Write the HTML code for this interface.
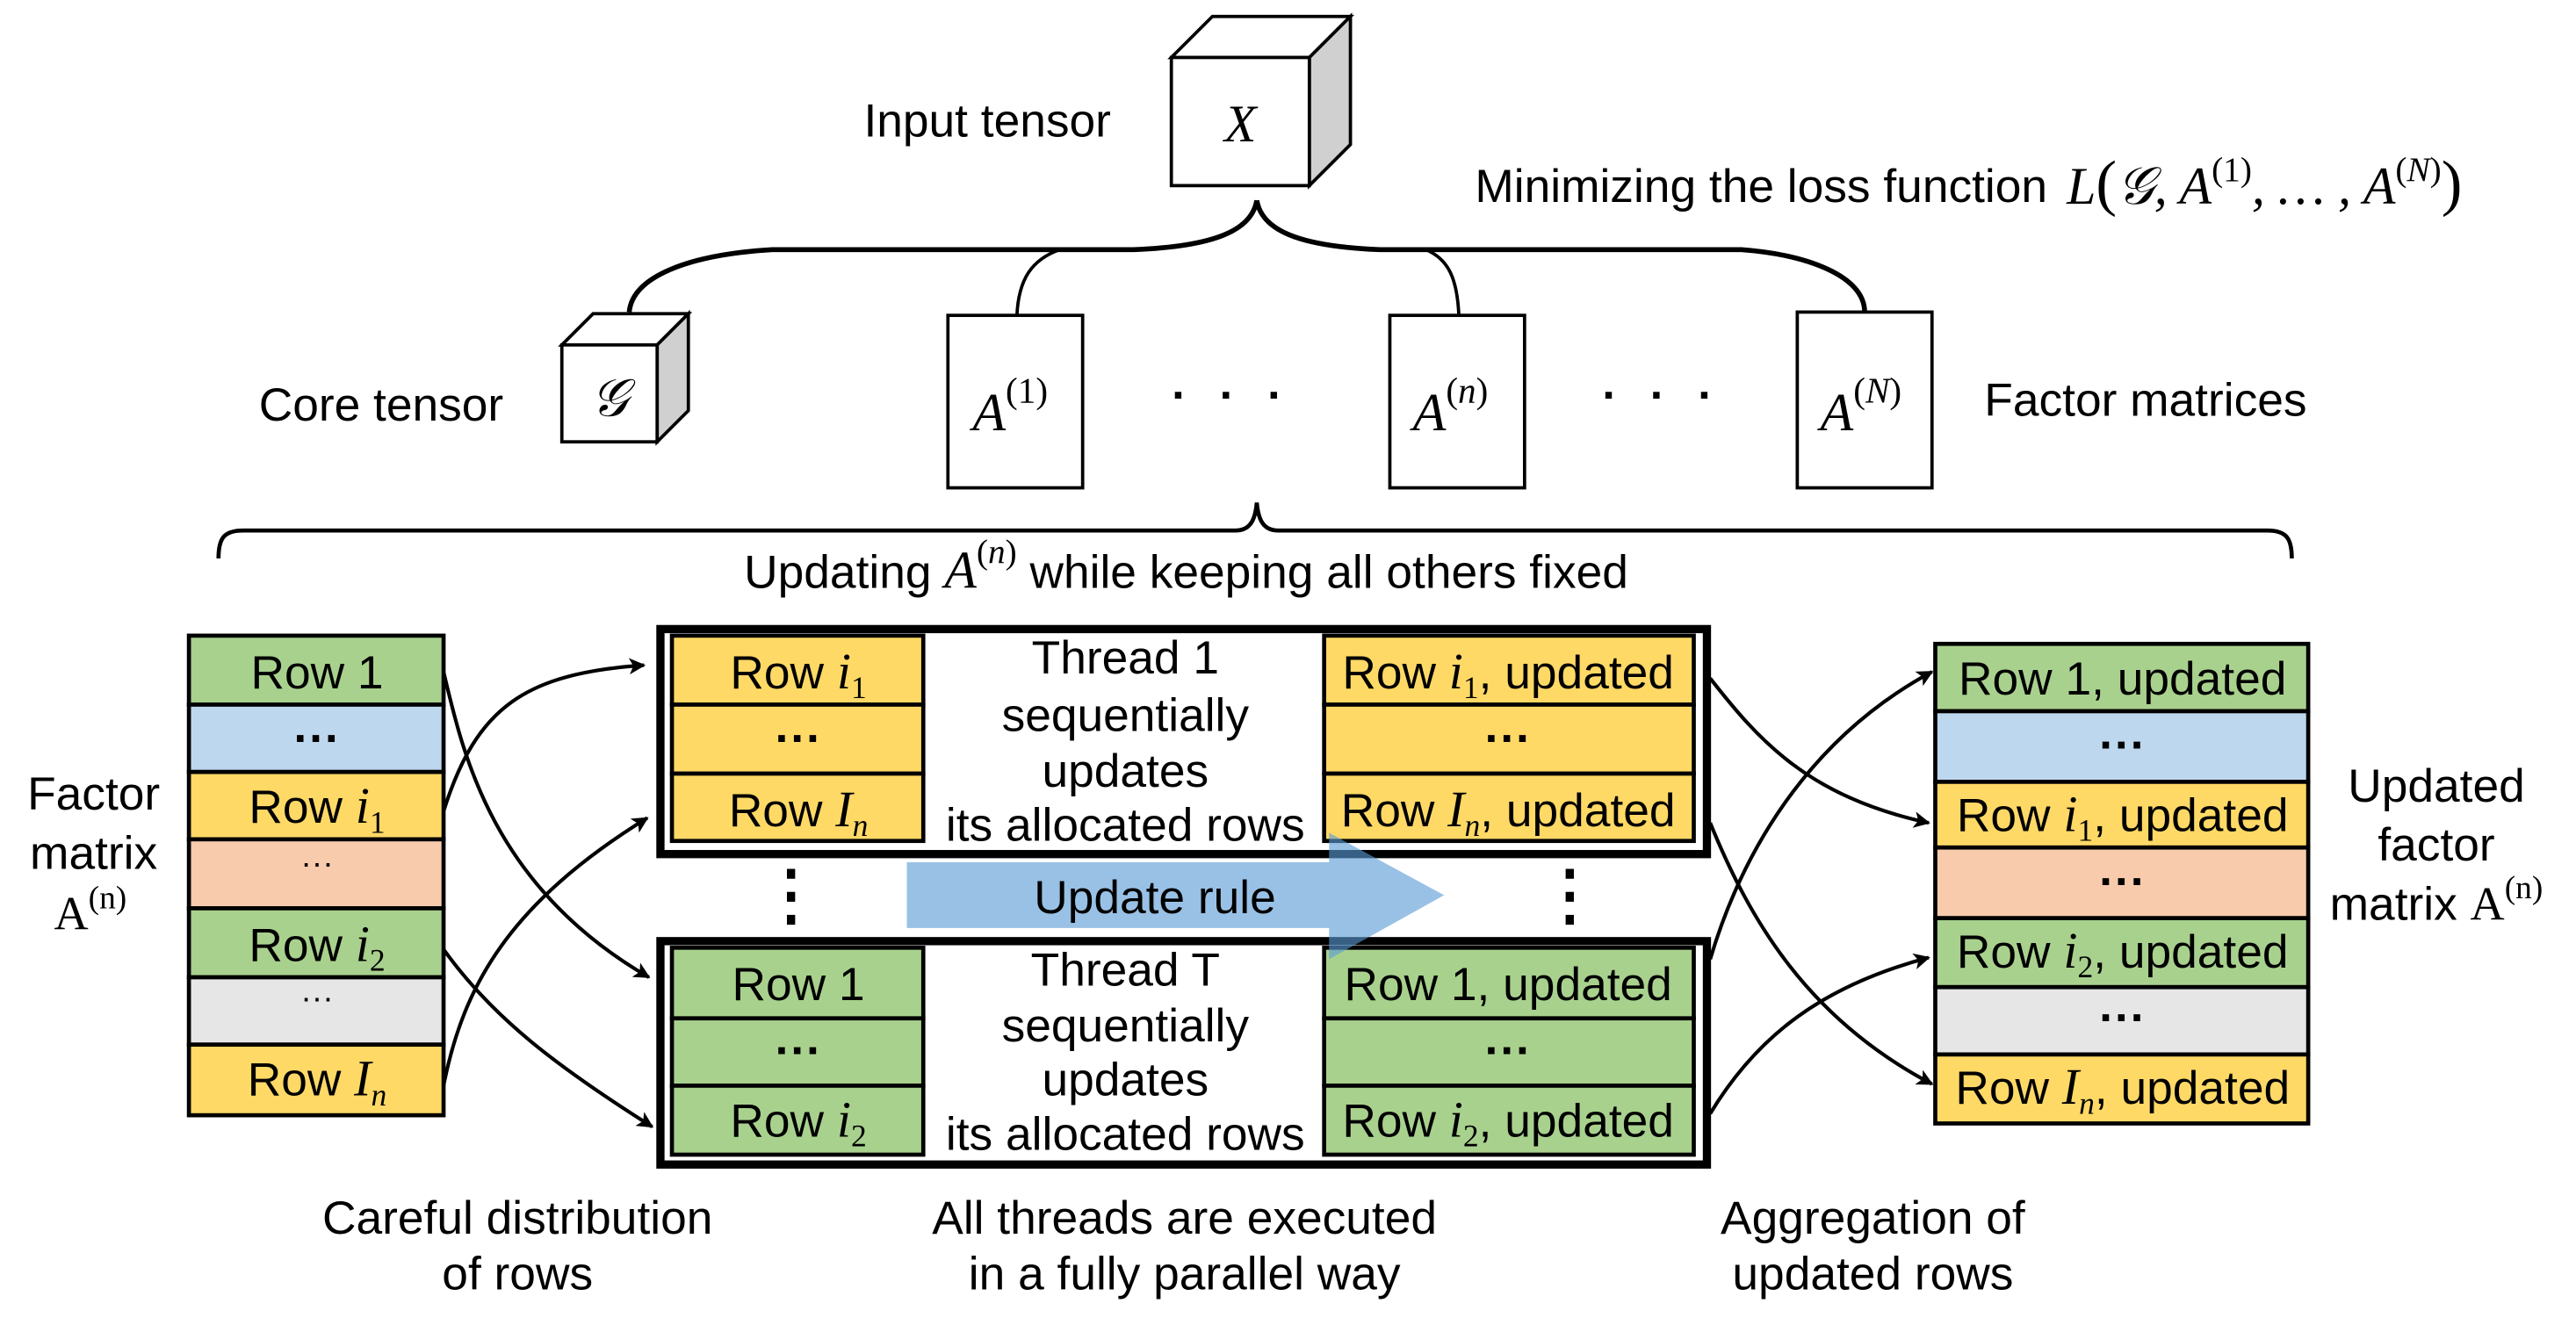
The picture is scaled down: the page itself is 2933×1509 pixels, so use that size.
<!DOCTYPE html>
<html><head><meta charset="utf-8"><style>
html,body{margin:0;padding:0;background:#fff;}
svg{display:block;}
text{font-family:"Liberation Sans",sans-serif;fill:#000;}
.m{font-family:"Liberation Serif",serif;font-style:italic;}
.r{font-family:"Liberation Serif",serif;}
</style></head><body>
<svg width="2933" height="1509" viewBox="0 0 1568 806.7" preserveAspectRatio="none" xmlns="http://www.w3.org/2000/svg">
<defs>
<marker id="ah" markerWidth="10" markerHeight="10" refX="9" refY="5" orient="auto" markerUnits="userSpaceOnUse">
<path d="M0,0 L10,5 L0,10 L2.5,5 Z" fill="#000"/>
</marker>
</defs>

<!-- Input tensor cube -->
<text x="601" y="83" font-size="28.5" text-anchor="middle">Input tensor</text>
<polygon points="713,35 738,10 822,10 797,35" fill="#fff" stroke="#000" stroke-width="2"/>
<polygon points="797,35 822,10 822,88 797,113" fill="#d0d0d0" stroke="#000" stroke-width="2"/>
<rect x="713" y="35" width="84" height="78" fill="#fff" stroke="#000" stroke-width="2"/>
<text x="755" y="86" font-size="32" class="m" text-anchor="middle">X</text>

<!-- top brace -->
<path d="M765,122 C762,140 740,150 690,152 L470,152 C420,155 385,168 383,190" fill="none" stroke="#000" stroke-width="3"/>
<path d="M765,122 C768,140 790,150 840,152 L1060,152 C1100,155 1135,168 1135,190" fill="none" stroke="#000" stroke-width="3"/>
<path d="M645,152 C628,158 620,170 619,192" fill="none" stroke="#000" stroke-width="2"/>
<path d="M868,152 C882,158 887,170 888,192" fill="none" stroke="#000" stroke-width="2"/>

<text x="1072" y="123" font-size="28.5" text-anchor="middle">Minimizing the loss function</text>
<text x="1258" y="124" font-size="32" class="m">L<tspan class="r" font-style="normal" font-size="38">(</tspan>𝒢, A<tspan font-size="21" dy="-14" class="r" font-style="normal">(1)</tspan><tspan dy="14">, … , A</tspan><tspan font-size="21" dy="-14" class="r" font-style="normal">(</tspan><tspan font-size="21">N</tspan><tspan font-size="21" class="r" font-style="normal">)</tspan><tspan dy="14" class="r" font-style="normal" font-size="38">)</tspan></text>

<!-- core tensor -->
<text x="232" y="256" font-size="28.5" text-anchor="middle">Core tensor</text>
<polygon points="342,210 361,191 419,191 400,210" fill="#fff" stroke="#000" stroke-width="2"/>
<polygon points="400,210 419,191 419,250 400,269" fill="#d0d0d0" stroke="#000" stroke-width="2"/>
<rect x="342" y="210" width="58" height="59" fill="#fff" stroke="#000" stroke-width="2"/>
<text x="371" y="253" font-size="32" class="m" text-anchor="middle">𝒢</text>

<!-- factor matrices -->
<rect x="577" y="192" width="82" height="105" fill="#fff" stroke="#000" stroke-width="2"/>
<text x="592" y="262" font-size="33" class="m">A<tspan font-size="22" dy="-17" class="r" font-style="normal">(1)</tspan></text>
<text x="750" y="250" font-size="28" text-anchor="middle" letter-spacing="6" font-weight="bold">· · ·</text>
<rect x="846" y="192" width="82" height="105" fill="#fff" stroke="#000" stroke-width="2"/>
<text x="860" y="262" font-size="33" class="m">A<tspan font-size="22" dy="-17" class="r" font-style="normal">(</tspan><tspan font-size="22">n</tspan><tspan font-size="22" class="r" font-style="normal">)</tspan></text>
<text x="1012" y="250" font-size="28" text-anchor="middle" letter-spacing="6" font-weight="bold">· · ·</text>
<rect x="1094" y="190" width="82" height="107" fill="#fff" stroke="#000" stroke-width="2"/>
<text x="1108" y="262" font-size="33" class="m">A<tspan font-size="22" dy="-17" class="r" font-style="normal">(</tspan><tspan font-size="22">N</tspan><tspan font-size="22" class="r" font-style="normal">)</tspan></text>
<text x="1306" y="253" font-size="28.5" text-anchor="middle">Factor matrices</text>

<!-- big brace -->
<path d="M133,340 C133,328 136,323 148,323 L752,323 C760,323 764,318 765,306 C766,318 770,323 778,323 L1380,323 C1392,323 1395,328 1395,340" fill="none" stroke="#000" stroke-width="2.5"/>
<text x="722" y="358" font-size="28.5" text-anchor="middle">Updating  <tspan class="m" font-size="32">A</tspan><tspan font-size="21" dy="-15" class="r">(</tspan><tspan font-size="21" class="m">n</tspan><tspan font-size="21" class="r">)</tspan><tspan dy="15"> while keeping all others fixed</tspan></text>

<!-- left matrix -->
<g stroke="#000" stroke-width="2.5">
<rect x="115" y="387" width="155" height="42" fill="#a9d18e"/>
<rect x="115" y="429" width="155" height="41" fill="#bdd7ee"/>
<rect x="115" y="470" width="155" height="41" fill="#ffd966"/>
<rect x="115" y="511" width="155" height="42" fill="#f8cbad"/>
<rect x="115" y="553" width="155" height="42" fill="#a9d18e"/>
<rect x="115" y="595" width="155" height="41" fill="#e7e6e6"/>
<rect x="115" y="636" width="155" height="43" fill="#ffd966"/>
</g>
<g font-size="28.5" text-anchor="middle">
<text x="193" y="419">Row 1</text>
<text x="193" y="459" font-weight="bold">···</text>
<text x="193" y="501">Row <tspan class="m" font-size="31">i</tspan><tspan font-size="19" dy="6" class="r">1</tspan></text>
<text x="193" y="532" font-size="20">···</text>
<text x="193" y="585">Row <tspan class="m" font-size="31">i</tspan><tspan font-size="19" dy="6" class="r">2</tspan></text>
<text x="193" y="614" font-size="20">···</text>
<text x="193" y="667">Row <tspan class="m" font-size="31">I</tspan><tspan font-size="19" dy="6" class="m">n</tspan></text>
</g>
<text x="57" y="493" font-size="28.5" text-anchor="middle">Factor</text>
<text x="57" y="529" font-size="28.5" text-anchor="middle">matrix</text>
<text x="55" y="566" font-size="29" text-anchor="middle" class="r">A<tspan font-size="20" dy="-13">(n)</tspan></text>

<!-- thread 1 -->
<rect x="402" y="383" width="637" height="137" fill="#fff" stroke="#000" stroke-width="5"/>
<g stroke="#000" stroke-width="2.5">
<rect x="409" y="387" width="153" height="42" fill="#ffd966"/>
<rect x="409" y="429" width="153" height="42" fill="#ffd966"/>
<rect x="409" y="471" width="153" height="41" fill="#ffd966"/>
<rect x="806" y="387" width="225" height="42" fill="#ffd966"/>
<rect x="806" y="429" width="225" height="42" fill="#ffd966"/>
<rect x="806" y="471" width="225" height="41" fill="#ffd966"/>
</g>
<!-- thread T -->
<rect x="402" y="573" width="637" height="136" fill="#fff" stroke="#000" stroke-width="5"/>
<g stroke="#000" stroke-width="2.5">
<rect x="409" y="577" width="153" height="43" fill="#a9d18e"/>
<rect x="409" y="620" width="153" height="41" fill="#a9d18e"/>
<rect x="409" y="661" width="153" height="42" fill="#a9d18e"/>
<rect x="806" y="577" width="225" height="43" fill="#a9d18e"/>
<rect x="806" y="620" width="225" height="41" fill="#a9d18e"/>
<rect x="806" y="661" width="225" height="42" fill="#a9d18e"/>
</g>
<g font-size="28.5" text-anchor="middle">
<text x="486" y="419">Row <tspan class="m" font-size="31">i</tspan><tspan font-size="19" dy="6" class="r">1</tspan></text>
<text x="486" y="459" font-weight="bold">···</text>
<text x="486" y="503">Row <tspan class="m" font-size="31">I</tspan><tspan font-size="19" dy="6" class="m">n</tspan></text>
<text x="918" y="419">Row <tspan class="m" font-size="31">i</tspan><tspan font-size="19" dy="6" class="r">1</tspan><tspan dy="-6">, updated</tspan></text>
<text x="918" y="459" font-weight="bold">···</text>
<text x="918" y="503">Row <tspan class="m" font-size="31">I</tspan><tspan font-size="19" dy="6" class="m">n</tspan><tspan dy="-6">, updated</tspan></text>
<text x="486" y="609">Row 1</text>
<text x="486" y="649" font-weight="bold">···</text>
<text x="486" y="692">Row <tspan class="m" font-size="31">i</tspan><tspan font-size="19" dy="6" class="r">2</tspan></text>
<text x="918" y="609">Row 1, updated</text>
<text x="918" y="649" font-weight="bold">···</text>
<text x="918" y="692">Row <tspan class="m" font-size="31">i</tspan><tspan font-size="19" dy="6" class="r">2</tspan><tspan dy="-6">, updated</tspan></text>
<text x="685" y="410">Thread 1</text>
<text x="685" y="445">sequentially</text>
<text x="685" y="479">updates</text>
<text x="685" y="512">its allocated rows</text>
<text x="685" y="600">Thread T</text>
<text x="685" y="634">sequentially</text>
<text x="685" y="667">updates</text>
<text x="685" y="700">its allocated rows</text>
</g>
<!-- vertical dots -->
<g fill="#000">
<rect x="479" y="529" width="5" height="6"/><rect x="479" y="543" width="5" height="6"/><rect x="479" y="557" width="5" height="6"/>
<rect x="953" y="529" width="5" height="6"/><rect x="953" y="543" width="5" height="6"/><rect x="953" y="557" width="5" height="6"/>
</g>
<!-- update rule arrow -->
<polygon points="552,525 809,525 809,507 879,545 809,584 809,565 552,565" fill="#5b9bd5" fill-opacity="0.62"/>
<text x="703" y="556" font-size="28.5" text-anchor="middle">Update rule</text>

<!-- right matrix -->
<g stroke="#000" stroke-width="2.5">
<rect x="1178" y="392" width="227" height="41" fill="#a9d18e"/>
<rect x="1178" y="433" width="227" height="43" fill="#bdd7ee"/>
<rect x="1178" y="476" width="227" height="40" fill="#ffd966"/>
<rect x="1178" y="516" width="227" height="43" fill="#f8cbad"/>
<rect x="1178" y="559" width="227" height="42" fill="#a9d18e"/>
<rect x="1178" y="601" width="227" height="41" fill="#e7e6e6"/>
<rect x="1178" y="642" width="227" height="42" fill="#ffd966"/>
</g>
<g font-size="28.5" text-anchor="middle">
<text x="1292" y="423">Row 1, updated</text>
<text x="1292" y="463" font-weight="bold">···</text>
<text x="1292" y="506">Row <tspan class="m" font-size="31">i</tspan><tspan font-size="19" dy="6" class="r">1</tspan><tspan dy="-6">, updated</tspan></text>
<text x="1292" y="546" font-weight="bold">···</text>
<text x="1292" y="589">Row <tspan class="m" font-size="31">i</tspan><tspan font-size="19" dy="6" class="r">2</tspan><tspan dy="-6">, updated</tspan></text>
<text x="1292" y="629" font-weight="bold">···</text>
<text x="1292" y="672">Row <tspan class="m" font-size="31">I</tspan><tspan font-size="19" dy="6" class="m">n</tspan><tspan dy="-6">, updated</tspan></text>
<text x="1483" y="488">Updated</text>
<text x="1483" y="524">factor</text>
<text x="1483" y="560">matrix <tspan class="r" font-size="29">A</tspan><tspan class="r" font-size="20" dy="-13">(n)</tspan></text>
</g>

<!-- arrows -->
<g fill="none" stroke="#000" stroke-width="2.2" marker-end="url(#ah)">
<path d="M270,409 C282,460 300,540 395,595"/>
<path d="M270,494 C290,430 320,410 392,405"/>
<path d="M270,578 C300,620 340,650 397,686"/>
<path d="M270,661 C282,600 310,550 394,498"/>
<path d="M1041,413 C1070,450 1100,485 1174,501"/>
<path d="M1041,501 C1065,560 1100,620 1176,660"/>
<path d="M1041,584 C1060,520 1100,450 1176,409"/>
<path d="M1041,678 C1070,630 1110,600 1174,583"/>
</g>

<!-- captions -->
<g font-size="28.5" text-anchor="middle">
<text x="315" y="751">Careful distribution</text>
<text x="315" y="785">of rows</text>
<text x="721" y="751">All threads are executed</text>
<text x="721" y="785">in a fully parallel way</text>
<text x="1140" y="751">Aggregation of</text>
<text x="1140" y="785">updated rows</text>
</g>
</svg>
</body></html>
